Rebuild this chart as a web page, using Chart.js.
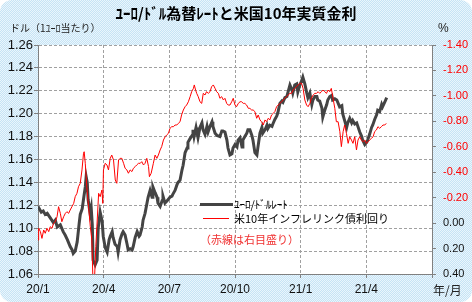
<!DOCTYPE html>
<html lang="ja">
<head>
<meta charset="UTF-8">
<title>ユーロ/ドル為替レートと米国10年実質金利</title>
<script src="https://cdn.jsdelivr.net/npm/chart.js@4.4.1"></script>
<style>
html,body{margin:0;padding:0;background:#fff}
#wrap{position:relative;width:472px;height:302px;border-radius:12px;overflow:hidden;
  background-color:#d8ecf8;background-image:repeating-conic-gradient(#c6e3f5 0 25%,#eaf6fc 0 50%);background-size:2px 2px;
  font-family:"Noto Sans CJK JP",sans-serif}
#wrap canvas{position:absolute;left:0;top:0}
.t{position:absolute;white-space:nowrap;line-height:1}
</style>
</head>
<body>
<div id="wrap">
  <canvas id="c" width="472" height="302"></canvas>
  <div class="t" style="left:0;width:472px;text-align:center;top:5px;font-size:15px;font-weight:bold;color:#000">ﾕｰﾛ/ﾄﾞﾙ為替ﾚｰﾄと米国10年実質金利</div>
  <div class="t" style="left:10px;top:23px;font-size:10px;color:#222">ドル（1ﾕｰﾛ当たり）</div>
  <div class="t" style="left:438px;top:22px;font-size:12px;color:#222;font-family:'Liberation Sans'">%</div>
  <div class="t" style="left:433px;top:284px;font-size:12px;color:#222">年/月</div>
  <!-- legend -->
  <div style="position:absolute;left:200px;top:202.5px;width:33px;height:3px;background:#444"></div>
  <div class="t" style="left:234px;top:198.5px;font-size:11px;color:#000">ﾕｰﾛ/ﾄﾞﾙﾚｰﾄ</div>
  <div style="position:absolute;left:203px;top:217.5px;width:26px;height:1px;background:#f00"></div>
  <div class="t" style="left:234px;top:212.5px;font-size:11px;color:#000">米10年インフレリンク債利回り</div>
  <div class="t" style="left:200px;top:233.5px;font-size:11px;color:#f03030">（赤線は右目盛り）</div>
</div>

<script>
// x = months since 2020/1
const xTickLabels=['20/1','20/4','20/7','20/10','21/1','21/4',''];

const eurMonths=[0,0.06,0.15,0.24,0.33,0.42,0.56,0.70,0.79,0.88,
1.02,1.15,1.24,1.34,1.47,1.56,1.61,1.70,1.79,1.88,
1.93,2.02,2.07,2.16,2.20,2.25,2.29,2.38,2.43,2.48,
2.52,2.61,2.70,2.75,2.84,2.93,2.98,3.07,3.16,3.25,
3.30,3.39,3.43,3.52,3.62,3.66,3.75,3.84,3.89,3.98,
4.07,4.12,4.21,4.30,4.35,4.44,4.53,4.62,4.66,4.76,
4.80,4.89,5.03,5.12,5.21,5.25,5.35,5.44,5.48,5.58,
5.67,5.71,5.80,5.90,5.94,6.03,6.12,6.17,6.26,6.35,
6.40,6.49,6.58,6.63,6.72,6.81,6.85,6.94,7.04,7.08,
7.13,7.22,7.26,7.31,7.40,7.49,7.54,7.63,7.72,7.77,
7.86,7.95,7.99,8.09,8.18,8.22,8.31,8.40,8.45,8.54,
8.63,8.68,8.77,8.86,8.91,9.00,9.09,9.14,9.23,9.32,
9.36,9.45,9.54,9.59,9.68,9.77,9.82,9.91,10.00,10.05,
10.14,10.23,10.27,10.37,10.46,10.50,10.59,10.69,10.73,10.82,
10.91,10.96,11.05,11.14,11.19,11.28,11.37,11.41,11.51,11.60,
11.64,11.73,11.82,11.87,11.96,12.05,12.10,12.19,12.28,12.33,
12.42,12.51,12.56,12.65,12.74,12.78,12.87,12.97,13.01,13.10,
13.19,13.24,13.33,13.42,13.46,13.56,13.65,13.78,13.88,13.92,
14.01,14.10,14.15,14.24,14.33,14.38,14.47,14.56,14.70,14.79,
14.83,14.93,15.02,15.06,15.15,15.24,15.29,15.38,15.47,15.52,
15.61,15.70,15.74,15.84,15.93];
const eurRate=[1.119,1.117,1.114,1.115,1.112,1.113,1.109,1.105,1.107,1.101,
1.103,1.097,1.094,1.090,1.084,1.081,1.078,1.080,1.088,1.104,
1.112,1.117,1.124,1.136,1.145,1.140,1.125,1.113,1.118,1.103,
1.072,1.068,1.072,1.100,1.114,1.106,1.093,1.083,1.079,1.090,
1.093,1.097,1.092,1.086,1.084,1.079,1.090,1.095,1.097,1.094,
1.086,1.081,1.082,1.081,1.084,1.092,1.097,1.093,1.094,1.101,
1.107,1.113,1.127,1.133,1.127,1.136,1.131,1.127,1.122,1.119,
1.124,1.128,1.122,1.124,1.125,1.127,1.128,1.130,1.133,1.138,
1.140,1.142,1.151,1.155,1.166,1.170,1.175,1.178,1.181,1.186,
1.180,1.188,1.184,1.179,1.188,1.192,1.186,1.182,1.189,1.184,
1.189,1.193,1.189,1.183,1.181,1.181,1.180,1.185,1.185,1.184,
1.177,1.170,1.164,1.165,1.170,1.173,1.171,1.177,1.179,1.171,
1.177,1.180,1.183,1.186,1.186,1.181,1.177,1.166,1.164,1.171,
1.183,1.188,1.183,1.186,1.190,1.187,1.190,1.189,1.191,1.195,
1.198,1.201,1.209,1.211,1.210,1.214,1.215,1.218,1.225,1.221,
1.218,1.225,1.226,1.219,1.225,1.229,1.232,1.226,1.218,1.214,
1.218,1.208,1.212,1.215,1.215,1.212,1.211,1.205,1.197,1.203,
1.208,1.212,1.215,1.216,1.212,1.213,1.212,1.206,1.207,1.200,
1.194,1.188,1.192,1.196,1.192,1.194,1.191,1.192,1.184,1.180,
1.177,1.173,1.175,1.177,1.182,1.188,1.190,1.195,1.199,1.203,
1.202,1.208,1.206,1.210,1.214];

const tipsMonths=[0,0.03,0.11,0.18,0.26,0.33,0.41,0.49,0.56,0.64,0.71,0.79,0.87,0.94,1.02,1.09,1.17,1.25,1.32,1.40,
1.47,1.55,1.63,1.70,1.78,1.85,1.93,2.01,2.08,2.11,2.16,2.23,2.31,2.39,2.46,2.51,2.58,2.64,2.69,2.77,2.84,2.92,2.96,2.99,
3.07,3.15,3.22,3.30,3.37,3.45,3.53,3.60,3.68,3.75,3.83,3.91,3.98,4.06,4.13,4.21,4.29,4.36,4.44,4.51,
4.59,4.67,4.74,4.82,4.89,4.97,5.05,5.09,5.17,5.27,5.35,5.43,5.50,5.58,5.65,5.73,5.81,5.88,5.96,6.03,6.11,6.19,6.26,6.34,6.41,6.49,
6.56,6.64,6.72,6.79,6.87,6.95,7.02,7.10,7.14,7.20,7.25,7.32,7.40,7.48,7.55,7.63,7.70,7.78,7.86,7.93,
8.01,8.09,8.16,8.24,8.31,8.39,8.47,8.54,8.62,8.69,8.77,8.85,8.92,9.00,9.07,9.15,9.23,9.30,9.38,9.45,9.53,9.61,9.68,
9.76,9.83,9.91,9.99,10.06,10.14,10.21,10.29,10.37,10.44,10.52,10.59,10.67,10.75,10.82,10.90,10.97,11.05,11.13,11.20,
11.28,11.35,11.43,11.51,11.58,11.66,11.73,11.81,11.89,11.96,12.04,12.11,12.19,12.27,12.34,12.42,12.49,12.57,12.65,12.72,12.80,12.87,
12.95,13.02,13.10,13.18,13.25,13.33,13.40,13.48,13.56,13.63,13.71,13.79,13.86,13.94,14.01,14.09,14.17,14.24,14.32,14.39,
14.47,14.55,14.62,14.70,14.77,14.85,14.93,15.00,15.08,15.15,15.23,15.31,15.38,15.46,15.53,15.61,15.69,15.76,15.84,15.91];
const tipsYield=[0.133,0.041,0.067,0.120,0.054,0.080,0.041,0.067,0.028,0.041,0.002,-0.011,-0.050,-0.129,-0.077,-0.011,-0.050,-0.077,-0.090,-0.077,
-0.103,-0.129,-0.155,-0.208,-0.234,-0.286,-0.313,-0.418,-0.549,-0.561,-0.470,-0.286,-0.129,0.028,0.133,0.45,0.45,0.185,0.028,-0.234,-0.208,-0.260,-0.155,-0.418,
-0.470,-0.457,-0.418,-0.509,-0.535,-0.496,-0.339,-0.313,-0.496,-0.509,-0.509,-0.470,-0.431,-0.418,-0.392,-0.418,-0.405,-0.431,-0.444,-0.457,
-0.470,-0.470,-0.483,-0.457,-0.470,-0.509,-0.444,-0.365,-0.392,-0.470,-0.535,-0.509,-0.535,-0.575,-0.601,-0.653,-0.679,-0.693,-0.706,-0.745,-0.758,-0.758,-0.771,-0.771,-0.784,-0.797,
-0.850,-0.889,-0.915,-0.928,-0.954,-0.994,-1.033,-1.059,-1.086,-1.046,-1.020,-0.994,-0.954,-0.941,-1.020,-1.007,-1.033,-1.020,-1.033,-1.072,
-1.086,-1.059,-1.033,-1.020,-0.981,-0.994,-0.968,-0.981,-0.941,-0.928,-0.928,-0.954,-0.981,-0.928,-0.915,-0.941,-0.954,-0.954,-0.941,-0.941,-0.928,-0.902,-0.902,
-0.889,-0.889,-0.876,-0.824,-0.850,-0.811,-0.797,-0.771,-0.811,-0.797,-0.824,-0.811,-0.850,-0.863,-0.876,-0.915,-0.928,-0.941,-0.954,-0.968,
-0.981,-0.994,-1.007,-1.020,-1.020,-1.046,-1.059,-1.072,-1.086,-1.099,-1.099,-1.059,-0.968,-0.928,-0.915,-0.941,-0.981,-1.007,-1.020,-1.020,-1.033,-1.020,
-1.033,-1.046,-1.033,-1.020,-1.046,-1.033,-1.059,-0.981,-0.902,-0.797,-0.797,-0.719,-0.601,-0.719,-0.771,-0.706,-0.627,-0.679,-0.653,-0.627,
-0.679,-0.575,-0.653,-0.679,-0.653,-0.640,-0.653,-0.627,-0.640,-0.653,-0.666,-0.679,-0.719,-0.732,-0.758,-0.745,-0.758,-0.771,-0.771,-0.784];

function pts(xs,ys){const n=Math.min(xs.length,ys.length),a=[];for(let i=0;i<n;i++)a.push({x:xs[i],y:ys[i]});return a}
const fmt=v=>(Math.abs(v)<1e-9?0:v).toFixed(2);

const plotBg={id:'plotBg',beforeDraw(c){const a=c.chartArea,g=c.ctx;g.save();g.fillStyle='#fff';g.fillRect(a.left,a.top,a.right-a.left,a.bottom-a.top);g.restore();}};

new Chart(document.getElementById('c'),{
  type:'line',
  data:{datasets:[
    {label:'米10年インフレリンク債利回り',data:pts(tipsMonths,tipsYield),yAxisID:'yR',borderColor:'#ff0000',borderWidth:1,pointRadius:0,tension:0},
    {label:'ﾕｰﾛ/ﾄﾞﾙﾚｰﾄ',data:pts(eurMonths,eurRate),yAxisID:'yL',borderColor:'#444444',borderWidth:3,pointRadius:0,tension:0}
  ]},
  options:{
    responsive:false,animation:false,
    layout:{padding:{top:45,left:0,right:0,bottom:0}},
    plugins:{legend:{display:false},tooltip:{enabled:false}},
    scales:{
      x:{type:'linear',min:0,max:18,afterFit:s=>{s.height=28},
        ticks:{stepSize:3,autoSkip:false,maxRotation:0,padding:4,color:'#111',font:{family:'Liberation Sans',size:12},callback:v=>xTickLabels[Math.round(v/3)]??''},
        grid:{color:'#a0a0a0',tickColor:'#808080',tickLength:4},
        border:{color:'#808080',dash:[3,2]}},
      yL:{position:'left',min:1.06,max:1.26,afterFit:s=>{s.width=38},
        ticks:{stepSize:0.02,autoSkip:false,padding:1,color:'#111',font:{family:'Liberation Sans',size:13},callback:v=>fmt(v)},
        grid:{color:'#a0a0a0',tickColor:'#808080',tickLength:4},
        border:{color:'#808080',dash:[3,2]}},
      yR:{position:'right',min:-1.4,max:0.4,reverse:true,afterFit:s=>{s.width=40},
        ticks:{stepSize:0.2,autoSkip:false,padding:7,font:{family:'Liberation Sans',size:11},
          color:c=>c.tick&&c.tick.value< -1e-9?'#ff0000':'#111',callback:v=>fmt(v)},
        grid:{drawOnChartArea:false,color:'#808080',tickLength:4},
        border:{color:'#808080'}}
    }
  },
  plugins:[plotBg]
});
</script>
</body>
</html>
